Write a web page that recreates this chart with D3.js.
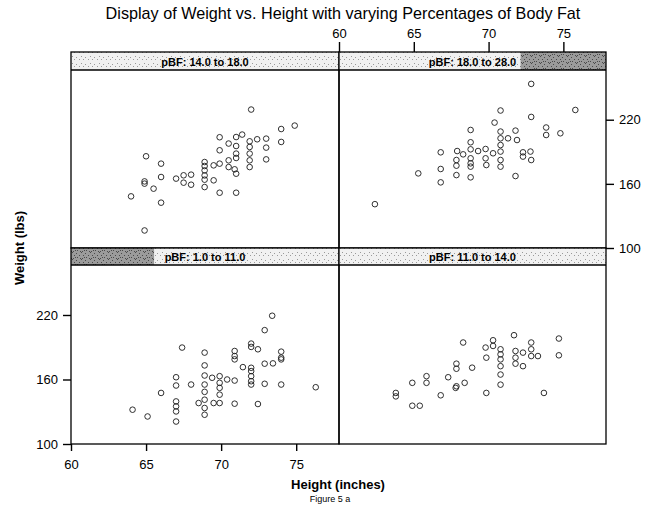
<!DOCTYPE html>
<html>
<head>
<meta charset="utf-8">
<script src="https://cdnjs.cloudflare.com/ajax/libs/d3/7.8.5/d3.min.js"></script>
<style>
  body { margin: 0; background: #fff; }
  text { font-family: Arial, "Liberation Sans", sans-serif; fill: #000; }
</style>
</head>
<body>
<script>
// values (height in inches, weight in lbs)
var stripLabels = ["pBF: 14.0 to 18.0", "pBF: 18.0 to 28.0", "pBF: 1.0 to 11.0", "pBF: 11.0 to 14.0"];
var heightTicks = [60, 65, 70, 75];
var weightTicks = [100, 160, 220];

var heights14to18 = [72.0, 74.9, 74.0, 74.0, 69.9, 70.5, 71.0, 71.4, 71.0, 69.9, 71.9, 72.4, 73.0, 71.9, 73.0, 71.0, 71.0, 71.9, 71.9, 71.9, 73.0, 65.0, 66.0, 68.9, 68.9, 68.9, 68.9, 68.9, 69.5, 69.9, 70.5, 70.5, 70.9, 71.0, 69.5, 68.9, 69.9, 71.0, 66.0, 67.0, 67.5, 68.0, 67.5, 68.0, 64.9, 64.9, 65.5, 64.0, 66.0, 64.9];
var weights14to18 = [229.5, 214.5, 211.3, 199.2, 203.6, 197.7, 203.8, 206.1, 195.4, 191.4, 199.8, 201.7, 202.3, 194.5, 193.9, 188.3, 184.2, 188.3, 182.0, 175.7, 182.9, 185.8, 178.9, 180.4, 176.7, 172.6, 167.9, 163.9, 177.3, 178.9, 182.0, 175.7, 173.6, 169.5, 163.3, 157.0, 151.7, 151.7, 166.4, 164.9, 168.0, 168.6, 161.1, 159.2, 162.3, 160.2, 155.5, 148.3, 142.4, 116.4];

var heights18to28 = [72.85, 75.8, 70.8, 72.85, 70.4, 73.85, 73.85, 74.8, 68.8, 71.8, 70.8, 70.8, 70.8, 70.8, 70.8, 70.8, 71.3, 71.9, 68.8, 68.8, 66.8, 67.9, 68.3, 69.3, 69.8, 70.3, 67.85, 67.85, 67.85, 68.8, 68.8, 68.8, 69.8, 69.85, 72.3, 72.3, 72.8, 72.85, 66.8, 66.8, 65.3, 68.8, 71.8, 62.4];
var weights18to28 = [253.5, 229.1, 228.6, 222.6, 217.3, 212.7, 205.7, 207.3, 210.4, 209.8, 208.9, 202.6, 196.3, 190.2, 182.3, 176.1, 202.6, 201.0, 198.9, 192.3, 189.5, 190.7, 187.6, 190.7, 192.6, 188.6, 182.3, 177.0, 168.2, 183.9, 179.2, 176.1, 183.9, 177.6, 189.5, 185.5, 190.2, 182.3, 173.9, 161.4, 169.8, 166.1, 167.3, 141.0];

var heights1to11 = [73.4, 72.9, 67.4, 72.0, 72.0, 72.45, 70.9, 70.9, 70.9, 68.9, 74.0, 74.0, 72.9, 73.45, 74.0, 68.9, 71.45, 72.0, 72.0, 72.0, 72.0, 72.0, 68.9, 68.9, 68.9, 68.9, 68.9, 68.9, 69.4, 69.9, 69.9, 69.9, 69.9, 69.9, 70.4, 70.9, 67.0, 67.0, 68.0, 72.9, 74.0, 76.3, 66.0, 67.0, 67.0, 67.0, 68.5, 69.5, 70.9, 72.45, 64.1, 65.1, 67.0];
var weights1to11 = [219.3, 205.9, 189.7, 193.4, 190.3, 188.1, 186.5, 181.8, 178.7, 185.0, 185.9, 180.3, 174.7, 175.0, 178.7, 173.1, 171.5, 170.9, 167.8, 163.1, 158.4, 155.3, 163.7, 155.3, 148.5, 141.2, 133.5, 127.2, 161.6, 163.1, 156.9, 152.2, 145.9, 138.1, 160.0, 159.0, 162.1, 154.4, 155.3, 156.0, 155.3, 152.8, 147.5, 139.6, 135.0, 130.3, 138.1, 138.1, 137.5, 137.2, 131.9, 125.6, 120.9];

var heights11to14 = [71.7, 74.7, 70.3, 70.3, 72.85, 72.85, 68.3, 70.8, 70.8, 70.8, 70.8, 70.8, 70.8, 69.85, 71.8, 71.8, 71.8, 72.3, 72.3, 72.85, 73.3, 74.7, 67.85, 67.85, 67.85, 68.9, 68.4, 67.3, 67.8, 65.85, 65.85, 64.9, 66.8, 69.85, 73.7, 63.8, 63.8, 64.9, 65.4, 69.8];
var weights11to14 = [201.2, 198.1, 196.5, 191.2, 194.4, 188.1, 194.4, 188.1, 183.4, 178.7, 172.4, 164.6, 155.2, 180.3, 186.5, 180.3, 174.7, 185.0, 172.4, 181.8, 181.8, 182.5, 174.7, 170.0, 153.7, 171.0, 156.9, 162.1, 152.2, 163.1, 156.9, 156.9, 145.3, 147.5, 147.5, 147.5, 144.3, 135.6, 135.6, 189.7];

var W = 649, H = 508;
var svg = d3.select("body").append("svg")
    .attr("width", W)
    .attr("height", H);

// layout of the 2x2 trellis
var colX = [[71, 339], [339, 606]];
var rowY = [{strip: 52, top: 70, bottom: 248}, {strip: 248, top: 265, bottom: 444}];
var xDomain = [60, 77.85], yDomain = [100, 266.5];

var xScales = colX.map(function(c) { return d3.scaleLinear().domain(xDomain).range(c); });
var yScales = rowY.map(function(r) { return d3.scaleLinear().domain(yDomain).range([r.bottom, r.top]); });

// stipple patterns for the strips
var defs = svg.append("defs");
function stipple(id, bg, dot, step) {
    var p = defs.append("pattern").attr("id", id).attr("patternUnits", "userSpaceOnUse")
        .attr("width", 9).attr("height", 7);
    p.append("rect").attr("width", 9).attr("height", 7).attr("fill", bg);
    var pts = [[0,0],[4,1],[7,3],[2,3],[5,5],[1,6],[8,6],[3,5]];
    pts.slice(0, step).forEach(function(d) {
        p.append("rect").attr("x", d[0]).attr("y", d[1]).attr("width", 1).attr("height", 1).attr("fill", dot);
    });
}
stipple("lite", "#f1f1f1", "#9a9a9a", 4);
stipple("dark", "#9b9b9b", "#4a4a4a", 8);

var panels = [
    {col: 0, row: 0, label: stripLabels[0], hx: heights14to18, wy: weights14to18, dark: null},
    {col: 1, row: 0, label: stripLabels[1], hx: heights18to28, wy: weights18to28, dark: [0.68, 1]},
    {col: 0, row: 1, label: stripLabels[2], hx: heights1to11, wy: weights1to11, dark: [0, 0.31]},
    {col: 1, row: 1, label: stripLabels[3], hx: heights11to14, wy: weights11to14, dark: null}
];

panels.forEach(function(p) {
    var x = xScales[p.col], y = yScales[p.row];
    var x0 = colX[p.col][0], x1 = colX[p.col][1], r = rowY[p.row];
    var g = svg.append("g");

    // strip
    g.append("rect").attr("x", x0).attr("y", r.strip).attr("width", x1 - x0).attr("height", r.top - r.strip)
        .attr("fill", "url(#lite)");
    if (p.dark) {
        g.append("rect").attr("x", x0 + p.dark[0] * (x1 - x0)).attr("y", r.strip)
            .attr("width", (p.dark[1] - p.dark[0]) * (x1 - x0)).attr("height", r.top - r.strip)
            .attr("fill", "url(#dark)");
    }
    g.append("text").attr("x", (x0 + x1) / 2).attr("y", r.top - 4.5)
        .attr("text-anchor", "middle").style("font-size", "11px").style("font-weight", "bold")
        .text(p.label);

    // points
    g.selectAll("circle").data(p.hx).enter().append("circle")
        .attr("cx", function(d) { return x(d); })
        .attr("cy", function(d, i) { return y(p.wy[i]); })
        .attr("r", 2.8)
        .attr("fill", "none")
        .attr("stroke", "#1a1a1a")
        .attr("stroke-width", 0.9);

    // frame
    g.append("rect").attr("x", x0).attr("y", r.strip).attr("width", x1 - x0).attr("height", r.bottom - r.strip)
        .attr("fill", "none").attr("stroke", "#000").attr("stroke-width", 1.3);
    g.append("line").attr("x1", x0).attr("x2", x1).attr("y1", r.top).attr("y2", r.top)
        .attr("stroke", "#000").attr("stroke-width", 1.3);
});

function styleAxis(sel) {
    sel.select(".domain").remove();
    sel.selectAll(".tick line").attr("stroke", "#000").attr("stroke-width", 1.4);
    sel.selectAll(".tick text").style("font-size", "13px").attr("fill", "#000");
}

// alternating axes, trellis style
svg.append("g").attr("transform", "translate(0," + rowY[1].bottom + ")")
    .call(d3.axisBottom(xScales[0]).tickValues(heightTicks).tickSize(7).tickPadding(9))
    .call(styleAxis);
svg.append("g").attr("transform", "translate(0," + rowY[0].strip + ")")
    .call(d3.axisTop(xScales[1]).tickValues(heightTicks).tickSize(10).tickPadding(4))
    .call(styleAxis);
svg.append("g").attr("transform", "translate(" + colX[0][0] + ",0)")
    .call(d3.axisLeft(yScales[1]).tickValues(weightTicks).tickSize(8).tickPadding(5))
    .call(styleAxis);
svg.append("g").attr("transform", "translate(" + colX[1][1] + ",0)")
    .call(d3.axisRight(yScales[0]).tickValues(weightTicks).tickSize(8).tickPadding(5))
    .call(styleAxis);

// titles
svg.append("text").attr("x", 343).attr("y", 19).attr("text-anchor", "middle")
    .style("font-size", "16.2px").text("Display of Weight vs. Height with varying Percentages of Body Fat");
svg.append("text").attr("x", 338).attr("y", 489).attr("text-anchor", "middle")
    .style("font-size", "13px").style("font-weight", "bold").text("Height (inches)");
svg.append("text").attr("x", 330).attr("y", 502).attr("text-anchor", "middle")
    .style("font-size", "9px").text("Figure 5 a");
svg.append("text").attr("transform", "translate(24,248) rotate(-90)").attr("text-anchor", "middle")
    .style("font-size", "13px").style("font-weight", "bold").text("Weight (lbs)");
</script>
</body>
</html>
